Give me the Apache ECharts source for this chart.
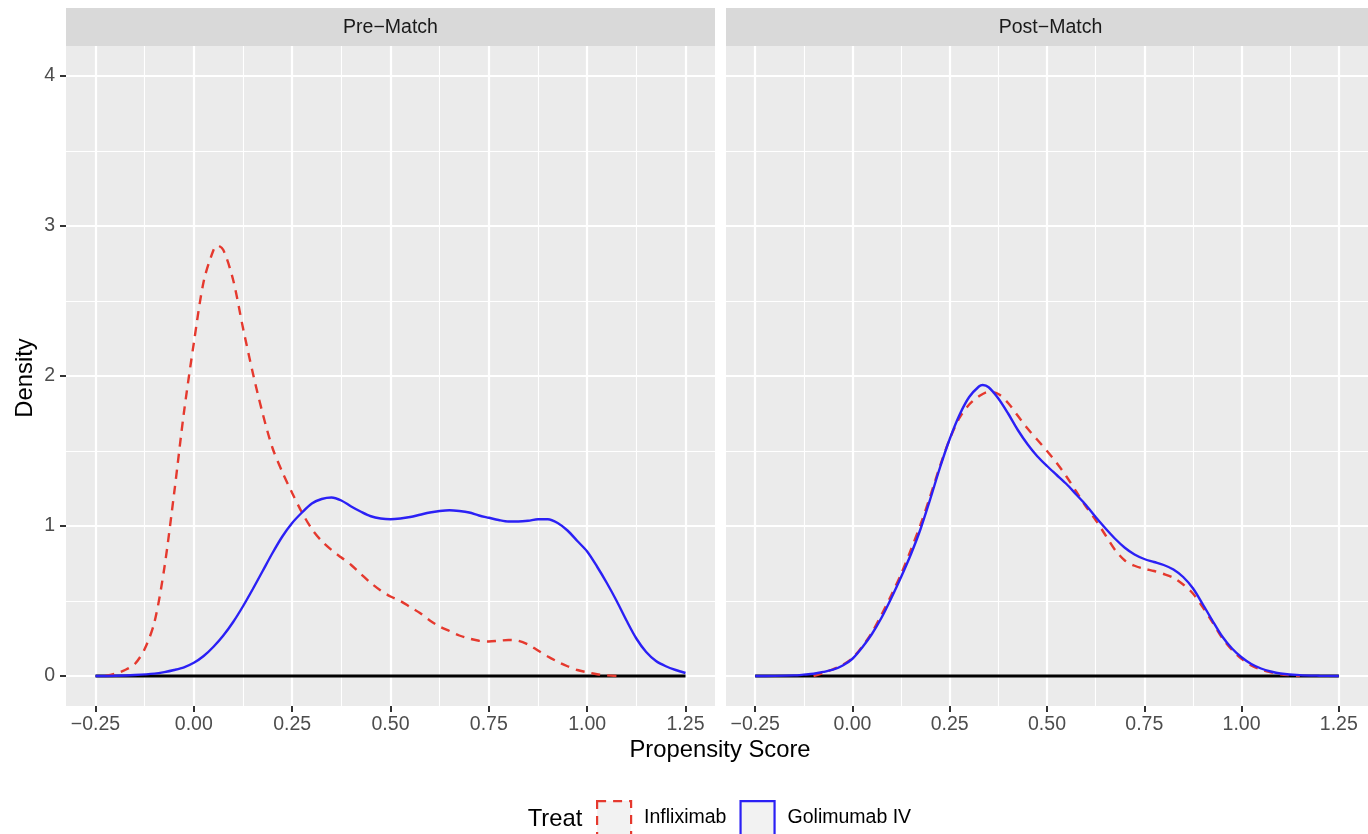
<!DOCTYPE html>
<html>
<head>
<meta charset="utf-8">
<title>Propensity Score Density</title>
<script src="https://cdn.jsdelivr.net/npm/echarts@6/dist/echarts.min.js"></script>
<style>
  html, body { margin: 0; padding: 0; background: #ffffff; }
  #chart { width: 1368px; height: 834px; }
</style>
</head>
<body>
<div id="chart"></div>
<script>
// Facet titles and legend entries
const PANELS = ['Pre\u2212Match', 'Post\u2212Match'];
const GROUPS = ['Infliximab', 'Golimumab IV'];

// Axis ticks
const X_TICKS = [-0.25, 0, 0.25, 0.5, 0.75, 1, 1.25];
const X_MINOR = [-0.125, 0.125, 0.375, 0.625, 0.875, 1.125];
const Y_TICKS = [0, 1, 2, 3, 4];
const Y_MINOR = [0.5, 1.5, 2.5, 3.5];

// Kernel density estimates: [propensity score, density]
const PRE_INFLIXIMAB = [
  [-0.225, 0], [-0.2, 0.015], [-0.175, 0.04], [-0.15, 0.08], [-0.125, 0.18], [-0.1, 0.36],
  [-0.075, 0.72], [-0.05, 1.22], [-0.025, 1.76], [0.0, 2.22], [0.025, 2.63], [0.05, 2.84],
  [0.06, 2.87], [0.075, 2.84], [0.1, 2.64], [0.125, 2.32], [0.15, 2.02], [0.175, 1.75],
  [0.2, 1.52], [0.225, 1.36], [0.25, 1.22], [0.275, 1.09], [0.3, 0.98], [0.325, 0.90],
  [0.35, 0.84], [0.375, 0.79], [0.4, 0.74], [0.425, 0.68], [0.45, 0.62], [0.475, 0.57],
  [0.5, 0.53], [0.525, 0.50], [0.55, 0.46], [0.575, 0.42], [0.6, 0.37], [0.625, 0.33],
  [0.65, 0.30], [0.675, 0.27], [0.7, 0.25], [0.725, 0.235], [0.75, 0.23], [0.775, 0.235],
  [0.8, 0.24], [0.825, 0.235], [0.85, 0.21], [0.875, 0.17], [0.9, 0.13], [0.925, 0.095],
  [0.95, 0.065], [0.975, 0.04], [1.0, 0.025], [1.025, 0.012], [1.05, 0.004], [1.075, 0]
];
const PRE_GOLIMUMAB = [
  [-0.25, 0], [-0.2, 0.002], [-0.15, 0.007], [-0.1, 0.016], [-0.075, 0.026], [-0.05, 0.04],
  [-0.025, 0.058], [0.0, 0.088], [0.025, 0.133], [0.05, 0.195], [0.075, 0.27], [0.1, 0.36],
  [0.125, 0.465], [0.15, 0.58], [0.175, 0.70], [0.2, 0.82], [0.225, 0.93], [0.25, 1.02],
  [0.275, 1.09], [0.3, 1.15], [0.325, 1.18], [0.35, 1.19], [0.375, 1.17], [0.4, 1.13],
  [0.425, 1.095], [0.45, 1.065], [0.475, 1.05], [0.5, 1.045], [0.525, 1.05], [0.55, 1.06],
  [0.575, 1.075], [0.6, 1.09], [0.625, 1.10], [0.65, 1.105], [0.675, 1.10], [0.7, 1.09],
  [0.725, 1.07], [0.75, 1.055], [0.775, 1.04], [0.8, 1.03], [0.825, 1.03], [0.85, 1.035],
  [0.875, 1.045], [0.9, 1.045], [0.925, 1.02], [0.95, 0.97], [0.975, 0.90], [1.0, 0.83],
  [1.025, 0.73], [1.05, 0.62], [1.075, 0.50], [1.1, 0.37], [1.125, 0.25], [1.15, 0.16],
  [1.175, 0.10], [1.2, 0.065], [1.225, 0.04], [1.25, 0.02]
];
const POST_INFLIXIMAB = [
  [-0.1, 0], [-0.075, 0.02], [-0.05, 0.045], [-0.025, 0.075], [0.0, 0.12], [0.025, 0.195],
  [0.05, 0.29], [0.075, 0.41], [0.1, 0.54], [0.125, 0.68], [0.15, 0.84], [0.175, 1.01],
  [0.2, 1.20], [0.225, 1.40], [0.25, 1.58], [0.275, 1.72], [0.3, 1.81], [0.325, 1.865],
  [0.35, 1.895], [0.375, 1.88], [0.4, 1.82], [0.425, 1.735], [0.45, 1.65], [0.475, 1.575],
  [0.5, 1.50], [0.525, 1.42], [0.55, 1.33], [0.575, 1.23], [0.6, 1.13], [0.625, 1.04],
  [0.65, 0.94], [0.675, 0.84], [0.7, 0.77], [0.725, 0.735], [0.75, 0.715], [0.775, 0.70],
  [0.8, 0.68], [0.825, 0.655], [0.85, 0.61], [0.875, 0.55], [0.9, 0.46], [0.925, 0.36],
  [0.95, 0.255], [0.975, 0.175], [1.0, 0.115], [1.025, 0.07], [1.05, 0.042], [1.075, 0.025],
  [1.1, 0.012], [1.15, 0]
];
const POST_GOLIMUMAB = [
  [-0.25, 0], [-0.2, 0.001], [-0.15, 0.004], [-0.125, 0.009], [-0.1, 0.015], [-0.075, 0.027],
  [-0.05, 0.042], [-0.025, 0.07], [0.0, 0.115], [0.025, 0.19], [0.05, 0.28], [0.075, 0.39],
  [0.1, 0.52], [0.125, 0.66], [0.15, 0.81], [0.175, 0.98], [0.2, 1.18], [0.225, 1.39],
  [0.25, 1.58], [0.275, 1.74], [0.3, 1.86], [0.325, 1.93], [0.335, 1.94], [0.35, 1.925],
  [0.375, 1.85], [0.4, 1.75], [0.425, 1.64], [0.45, 1.545], [0.475, 1.465], [0.5, 1.40],
  [0.525, 1.34], [0.55, 1.28], [0.575, 1.21], [0.6, 1.14], [0.625, 1.06], [0.65, 0.985],
  [0.675, 0.915], [0.7, 0.855], [0.725, 0.81], [0.75, 0.78], [0.775, 0.76], [0.8, 0.74],
  [0.825, 0.71], [0.85, 0.66], [0.875, 0.585], [0.9, 0.48], [0.925, 0.37], [0.95, 0.265],
  [0.975, 0.185], [1.0, 0.125], [1.025, 0.08], [1.05, 0.05], [1.075, 0.03], [1.1, 0.017],
  [1.15, 0.006], [1.2, 0.002], [1.25, 0]
];
// Zero reference line
const BASELINE = [[-0.25, 0], [1.25, 0]];

const RED = '#E5392E';
const BLUE = '#2B20F5';
const FONT = '"Liberation Sans", Arial, sans-serif';

const XMIN = -0.325, XMAX = 1.325;
const YMIN = -0.2, YMAX = 4.2;

const fmtX = v => (v < 0 ? '\u2212' : '') + Math.abs(v).toFixed(2);

const grids = [
  { left: 66, right: 653, top: 46, bottom: 128 },
  { left: 726, right: -7, top: 46, bottom: 128 }
].map(g => Object.assign(g, { show: true, backgroundColor: '#EBEBEB', borderWidth: 0, containLabel: false }));

function minorAxis(gi, vals) {
  return {
    gridIndex: gi, type: 'value',
    axisLine: { show: false, onZero: false },
    axisTick: { show: false, customValues: vals },
    axisLabel: { show: false, customValues: vals },
    splitLine: { show: true, lineStyle: { color: '#FFFFFF', width: 1.1 } }
  };
}
function majorAxis(gi, vals, fmt, margin) {
  return {
    gridIndex: gi, type: 'value',
    axisLine: { show: false, onZero: false },
    axisTick: { show: true, length: 6, customValues: vals, lineStyle: { color: '#333333', width: 2 } },
    axisLabel: { show: true, customValues: vals, formatter: fmt, color: '#4D4D4D', fontSize: 19.5, fontFamily: FONT, margin: margin },
    splitLine: { show: true, lineStyle: { color: '#FFFFFF', width: 2.2 } }
  };
}

const xAxes = [], yAxes = [];
[0, 1].forEach(gi => {
  xAxes.push(Object.assign(minorAxis(gi, X_MINOR), { min: XMIN, max: XMAX, position: 'bottom' }));
  xAxes.push(Object.assign(majorAxis(gi, X_TICKS, fmtX, 9), { min: XMIN, max: XMAX, position: 'bottom' }));
  yAxes.push(Object.assign(minorAxis(gi, Y_MINOR), { min: YMIN, max: YMAX, position: 'left' }));
  const ya = Object.assign(majorAxis(gi, Y_TICKS, v => String(v), 11), { min: YMIN, max: YMAX, position: 'left' });
  if (gi === 1) {
    ya.axisTick.show = false;
    ya.axisLabel.show = false;
  }
  yAxes.push(ya);
});

function curve(name, data, gi, color, dashed, z) {
  return {
    name: name, type: 'line', data: data,
    xAxisIndex: gi * 2 + 1, yAxisIndex: gi * 2 + 1,
    smooth: 0.3, symbol: 'none', z: z,
    lineStyle: { color: color, width: 2.4, type: dashed ? [9, 7] : 'solid' },
    itemStyle: { color: color },
    emphasis: { disabled: true }
  };
}
function baseline(gi) {
  return {
    type: 'line', data: BASELINE, silent: true,
    xAxisIndex: gi * 2 + 1, yAxisIndex: gi * 2 + 1,
    symbol: 'none', z: 1,
    lineStyle: { color: '#000000', width: 3 }
  };
}

const series = [
  baseline(0),
  curve(GROUPS[0], PRE_INFLIXIMAB, 0, RED, true, 2),
  curve(GROUPS[1], PRE_GOLIMUMAB, 0, BLUE, false, 3),
  baseline(1),
  curve(GROUPS[0], POST_INFLIXIMAB, 1, RED, true, 2),
  curve(GROUPS[1], POST_GOLIMUMAB, 1, BLUE, false, 3)
];

// Facet strips and shared axis titles
const stripBoxes = [[66, 715], [726, 1375]];
const graphic = [];
stripBoxes.forEach((b, i) => {
  graphic.push({ type: 'rect', shape: { x: b[0], y: 8, width: b[1] - b[0], height: 38 }, style: { fill: '#D9D9D9' }, silent: true });
  graphic.push({ type: 'text', x: (b[0] + b[1]) / 2, y: 28, style: { text: PANELS[i], fill: '#1A1A1A', font: '19.5px ' + FONT, textAlign: 'center', textVerticalAlign: 'middle' }, silent: true });
});
graphic.push({ type: 'text', x: 720, y: 750, style: { text: 'Propensity Score', fill: '#000000', font: '23.8px ' + FONT, textAlign: 'center', textVerticalAlign: 'middle' }, silent: true });
graphic.push({ type: 'text', x: 25, y: 378, rotation: Math.PI / 2, style: { text: 'Density', fill: '#000000', font: '23.8px ' + FONT, textAlign: 'center', textVerticalAlign: 'middle' }, silent: true });
graphic.push({ type: 'text', x: 555, y: 819, style: { text: 'Treat', fill: '#000000', font: '23.8px ' + FONT, textAlign: 'center', textVerticalAlign: 'middle' }, silent: true });

const option = {
  animation: false,
  backgroundColor: '#FFFFFF',
  grid: grids,
  xAxis: xAxes,
  yAxis: yAxes,
  series: series,
  graphic: graphic,
  legend: {
    left: 596, top: 800, padding: 0, orient: 'horizontal',
    itemWidth: 34, itemHeight: 34, itemGap: 13,
    selectedMode: false,
    textStyle: { color: '#000000', fontSize: 19.5, fontFamily: FONT, padding: [3, 0, 0, 8] },
    data: [
      { name: GROUPS[0], icon: 'rect', itemStyle: { color: '#F2F2F2', borderColor: RED, borderWidth: 2.2, borderType: [9, 7] } },
      { name: GROUPS[1], icon: 'rect', itemStyle: { color: '#F2F2F2', borderColor: BLUE, borderWidth: 2.2, borderType: 'solid' } }
    ]
  }
};

const chart = echarts.init(document.getElementById('chart'), null, { renderer: 'canvas' });
chart.setOption(option);
</script>
</body>
</html>
